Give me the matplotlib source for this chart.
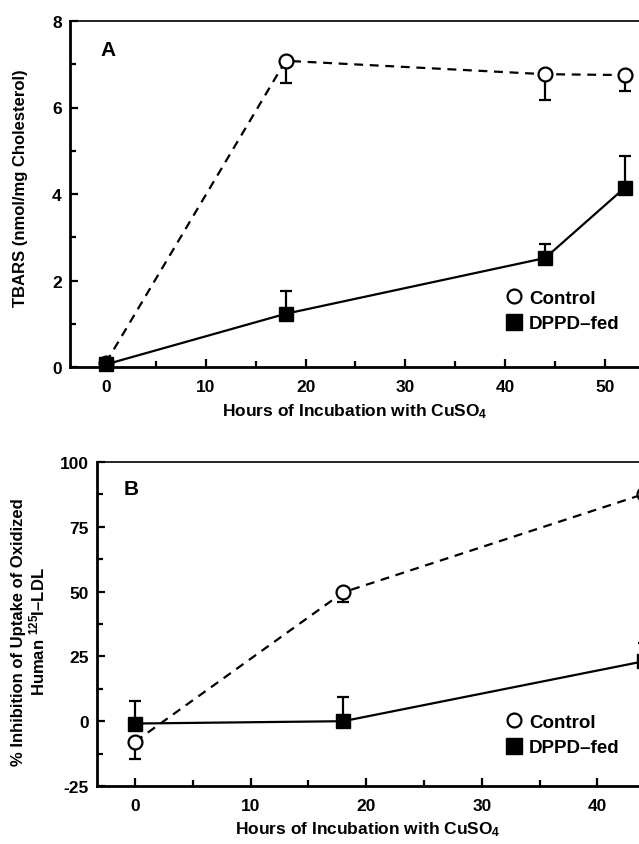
import matplotlib
matplotlib.use("Agg")
import matplotlib.pyplot as plt
from matplotlib.lines import Line2D
from matplotlib.ticker import MultipleLocator

plt.rcParams['font.family'] = ['Liberation Sans', 'DejaVu Sans']
plt.rcParams['font.weight'] = 'bold'
plt.rcParams['axes.labelweight'] = 'bold'
plt.rcParams['axes.unicode_minus'] = False
plt.rcParams['mathtext.fontset'] = 'custom'
plt.rcParams['mathtext.rm'] = 'Liberation Sans:bold'
plt.rcParams['mathtext.default'] = 'rm'

# panel A - TBARS
hours_a = [0, 18, 44, 52]
ctrl_a = [0.1, 7.08, 6.77, 6.75]
ctrl_a_err = [0.0, 0.52, 0.59, 0.38]
dppd_a = [0.06, 1.23, 2.52, 4.15]
dppd_a_err = [0.0, 0.53, 0.32, 0.74]

# panel B - % inhibition of uptake
hours_b = [0, 18, 44]
ctrl_b = [-7.9, 49.7, 87.6]
ctrl_b_err = [6.8, 3.8, 0.0]
dppd_b = [-0.9, 0.0, 23.1]
dppd_b_err = [8.7, 9.4, 7.2]

xlab = 'Hours of Incubation with CuSO$_4$'

fig = plt.figure(figsize=(6.39, 8.45), dpi=100)
axA = fig.add_axes([70/639, 477/845, 1 - 70/639, 346/845])
axB = fig.add_axes([97/639, 58/845, 1 - 97/639, 324/845])


def draw(ax, x, c, ce, d, de):
    z = [0]*len(x)
    ax.errorbar(x, c, yerr=[ce, z], fmt='none', ecolor='black', elinewidth=1.6,
                capsize=4, capthick=1.6, clip_on=False, zorder=2)
    ax.errorbar(x, d, yerr=[z, de], fmt='none', ecolor='black', elinewidth=1.6,
                capsize=4, capthick=1.6, clip_on=False, zorder=2)
    ax.plot(x, c, color='black', lw=1.6, ls=(0, (4, 3)), marker='o', ms=10,
            mfc='white', mec='black', mew=1.6, clip_on=False, zorder=3)
    ax.plot(x, d, color='black', lw=1.6, ls='-', marker='s', ms=10.5,
            mfc='black', mec='black', clip_on=False, zorder=4)


def style(ax):
    for s in ['left', 'bottom']:
        ax.spines[s].set_linewidth(2)
    ax.spines['top'].set_linewidth(1.2)
    ax.spines['right'].set_visible(False)
    ax.tick_params(which='both', direction='in', top=False, right=False,
                   labelsize=12.5, width=1.6)
    ax.tick_params(which='major', length=6, pad=9)
    ax.tick_params(which='minor', length=4)
    ax.tick_params(axis='y', pad=6)
    ax.xaxis.set_major_locator(MultipleLocator(10))
    ax.xaxis.set_minor_locator(MultipleLocator(5))


def legend(ax, y):
    h = [Line2D([], [], ls='none', marker='o', ms=10, mfc='white', mec='black', mew=1.6),
         Line2D([], [], ls='none', marker='s', ms=11, mfc='black', mec='black')]
    ax.legend(h, ['Control', 'DPPD–fed'], loc='upper left', frameon=False,
              bbox_to_anchor=(497/639, y), bbox_transform=fig.transFigure,
              handlelength=0.8, handletextpad=0.4, labelspacing=0.45,
              prop={'size': 13.5, 'weight': 'bold'}, borderpad=0)


draw(axA, hours_a, ctrl_a, ctrl_a_err, dppd_a, dppd_a_err)
style(axA)
axA.set_xlim(-3.6, 53.4)
axA.set_ylim(0, 8)
axA.yaxis.set_major_locator(MultipleLocator(2))
axA.yaxis.set_minor_locator(MultipleLocator(1))
axA.set_xlabel(xlab, fontsize=12.5, labelpad=5)
axA.set_ylabel('TBARS (nmol/mg Cholesterol)', fontsize=12)
axA.yaxis.set_label_coords(-42/569, 0.52)
axA.text(0.053, 0.945, 'A', transform=axA.transAxes, fontsize=15, va='top')
legend(axA, 1 - 281/845)

draw(axB, hours_b, ctrl_b, ctrl_b_err, dppd_b, dppd_b_err)
style(axB)
axB.set_xlim(-3.3, 43.6)
axB.set_ylim(-25, 100)
axB.yaxis.set_major_locator(MultipleLocator(25))
axB.yaxis.set_minor_locator(MultipleLocator(12.5))
axB.set_xlabel(xlab, fontsize=12.5, labelpad=4)
axB.set_ylabel('% Inhibition of Uptake of Oxidized\nHuman $^{125}$I–LDL',
               fontsize=12, linespacing=1.05)
axB.yaxis.set_label_coords(-50/542, (787 - 632)/324)
axB.text(0.05, 0.948, 'B', transform=axB.transAxes, fontsize=15, va='top')
legend(axB, 1 - 705/845)

fig.savefig('out.png', dpi=100)
